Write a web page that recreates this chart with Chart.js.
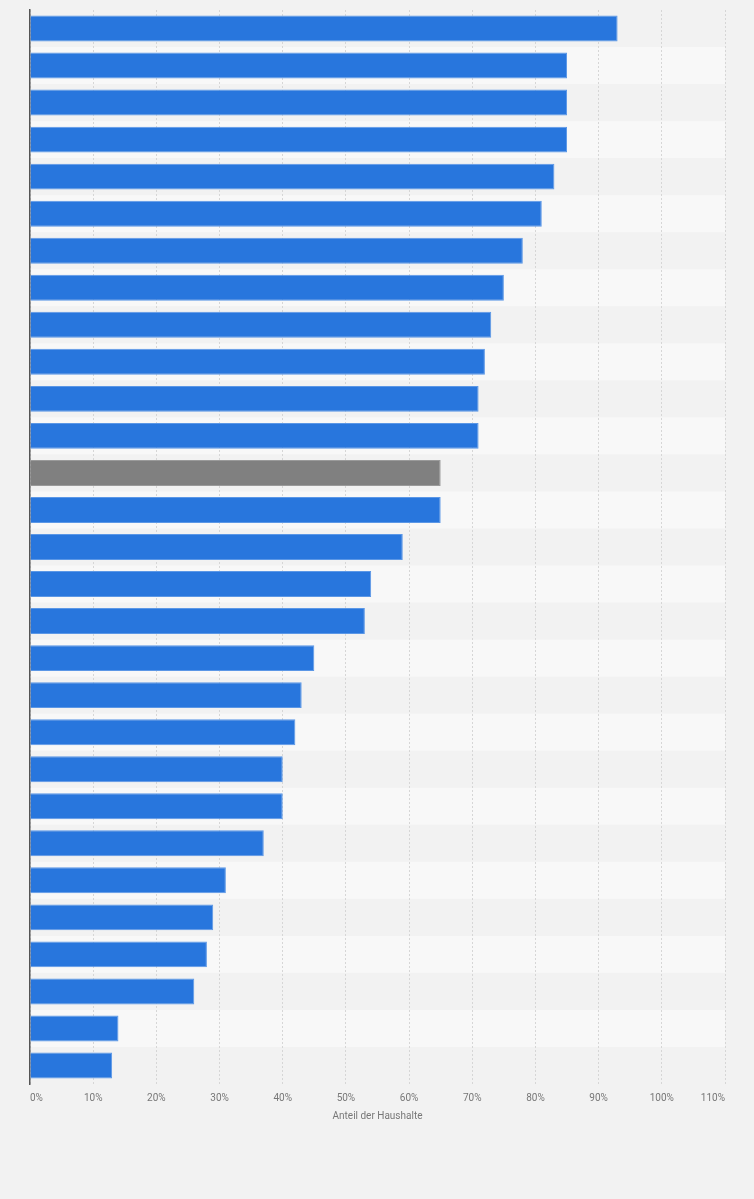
<!DOCTYPE html>
<html lang="de">
<head>
<meta charset="utf-8">
<title>Anteil der Haushalte</title>
<script src="https://cdn.jsdelivr.net/npm/chart.js@4/dist/chart.umd.min.js"></script>
<style>
    html, body {
        margin: 0;
        padding: 0;
        background: #f2f2f2;
    }
    #chart {
        display: block;
    }
</style>
</head>
<body>
<canvas id="chart" width="754" height="1199"></canvas>
<script>
// Kategorien (Beschriftungen im Bild nicht sichtbar, daher nur Rangplätze)
const categories = [
    '1', '2', '3', '4', '5', '6', '7', '8', '9', '10',
    '11', '12', '13', '14', '15', '16', '17', '18', '19', '20',
    '21', '22', '23', '24', '25', '26', '27', '28', '29'
];

// Anteil der Haushalte in Prozent
const shareValues = [
    93, 85, 85, 85, 83, 81, 78, 75, 73, 72,
    71, 71, 65, 65, 59, 54, 53, 45, 43, 42,
    40, 40, 37, 31, 29, 28, 26, 14, 13
];

// hervorgehobener Balken (grau)
const highlightIndex = 12;

const xTicks = [0, 10, 20, 30, 40, 50, 60, 70, 80, 90, 100, 110];

const colors = {
    bar: '#2876dd',
    barBorder: '#5b97e6',
    highlight: '#808080',
    highlightBorder: '#9a9a9a',
    stripe: '#f8f8f8',
    grid: '#d6d6d6',
    axis: '#555555',
    text: '#777777'
};

const barColors = shareValues.map((_, i) => i === highlightIndex ? colors.highlight : colors.bar);
const barBorders = shareValues.map((_, i) => i === highlightIndex ? colors.highlightBorder : colors.barBorder);

// alternierende Zeilenstreifen hinter den Balken
const stripePlugin = {
    id: 'stripes',
    beforeDraw(chart) {
        const { ctx, chartArea, scales } = chart;
        const y = scales.y;
        const half = (y.getPixelForValue(1) - y.getPixelForValue(0)) / 2;
        ctx.save();
        ctx.fillStyle = colors.stripe;
        categories.forEach((_, i) => {
            if (i % 2 === 1) {
                const c = y.getPixelForValue(i);
                ctx.fillRect(chartArea.left, c - half, chartArea.right - chartArea.left, half * 2);
            }
        });
        ctx.restore();
    }
};

new Chart(document.getElementById('chart'), {
    type: 'bar',
    data: {
        labels: categories,
        datasets: [{
            label: 'Anteil der Haushalte',
            data: shareValues,
            backgroundColor: barColors,
            borderColor: barBorders,
            borderWidth: 1,
            borderSkipped: 'start',
            barPercentage: 0.7,
            categoryPercentage: 1.0
        }]
    },
    options: {
        indexAxis: 'y',
        responsive: false,
        animation: false,
        devicePixelRatio: 1,
        layout: {
            padding: { left: 30, right: 29, top: 10, bottom: 73 }
        },
        plugins: {
            legend: { display: false },
            tooltip: { enabled: false }
        },
        scales: {
            x: {
                min: 0,
                max: 110,
                afterBuildTicks(scale) {
                    scale.ticks = xTicks.map(v => ({ value: v }));
                },
                grid: {
                    color: colors.grid,
                    lineWidth: 1,
                    drawTicks: false
                },
                border: {
                    display: false,
                    dash: [2, 2]
                },
                ticks: {
                    align: 'inner',
                    padding: 8,
                    color: colors.text,
                    font: { family: 'Roboto', size: 10 },
                    callback: value => value + '%'
                },
                title: {
                    display: true,
                    text: 'Anteil der Haushalte',
                    color: colors.text,
                    font: { family: 'Roboto', size: 10 },
                    padding: { top: -2, bottom: 4 }
                }
            },
            y: {
                grid: {
                    display: false,
                    drawTicks: false
                },
                border: {
                    display: true,
                    color: colors.axis,
                    width: 1.5
                },
                ticks: { display: false }
            }
        }
    },
    plugins: [stripePlugin]
});
</script>
</body>
</html>
